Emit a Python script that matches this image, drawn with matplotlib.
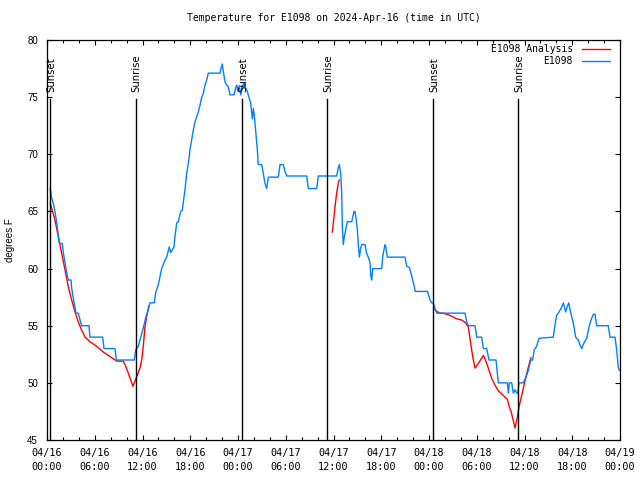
import matplotlib
matplotlib.use("Agg")
import matplotlib.pyplot as plt
from matplotlib.ticker import MultipleLocator, FuncFormatter
from matplotlib.lines import Line2D
import datetime as dt

# ---------------- data (hours since 2024-04-16 00:00 UTC) ----------------
obs_hours = [0.41, 0.54, 0.79, 1.0, 1.22, 1.42, 1.55, 1.92, 2.05, 2.26, 2.48, 2.68, 3.02, 3.1, 3.3,
             3.52, 3.64, 3.93, 4.15, 4.36, 5.28, 5.4, 7.0, 7.16, 8.54, 8.71, 10.97, 11.15, 11.47,
             11.69, 12.1, 12.44, 12.73, 12.94, 13.48, 13.66, 13.99, 14.2, 14.41, 14.83, 15.04,
             15.37, 15.54, 15.96, 16.08, 16.3, 16.5, 16.8, 17.0, 17.22, 17.34, 17.55, 17.76,
             17.97, 18.18, 18.38, 18.6, 18.81, 19.01, 19.23, 19.44, 19.64, 19.85, 20.07, 20.27,
             21.74, 21.86, 22.03, 22.15, 22.37, 22.58, 22.78, 23.0, 23.5, 23.71, 23.84, 24.0,
             24.16, 24.34, 24.54, 24.75, 24.97, 25.17, 25.38, 25.6, 25.8, 25.93, 26.05, 26.26,
             26.43, 26.55, 26.98, 27.18, 27.39, 27.6, 27.81, 29.07, 29.28, 29.69, 29.9, 30.12,
             31.79, 32.63, 32.84, 33.89, 34.09, 36.4, 36.6, 36.73, 36.91, 37.03, 37.11, 37.23,
             37.36, 37.54, 37.74, 38.29, 38.42, 38.58, 38.7, 38.83, 39.0, 39.12, 39.25, 39.42,
             39.55, 39.96, 40.17, 40.38, 40.59, 40.68, 40.8, 40.93, 42.06, 42.18, 42.47, 42.6,
             42.76, 44.99, 45.2, 45.53, 45.74, 45.95, 46.16, 46.28, 47.81, 48.13, 48.34, 48.54,
             48.76, 48.97, 52.53, 52.74, 52.94, 53.78, 54.0, 54.62, 54.83, 55.25, 55.54, 56.42,
             56.71, 57.84, 57.97, 58.09, 58.39, 58.6, 58.81, 59.02, 59.15, 59.31, 59.85, 60.19,
             60.48, 60.78, 61.03, 61.23, 61.53, 61.82, 63.62, 63.83, 64.04, 64.33, 64.59, 64.88,
             65.18, 65.38, 65.56, 65.72, 65.93, 66.22, 66.43, 66.76, 66.98, 67.19, 67.48, 67.82,
             68.11, 68.36, 68.65, 68.86, 69.07, 70.53, 70.74, 71.37, 71.58, 71.78, 71.91]
obs_temps = [67.0, 66.3, 65.7, 65.0, 64.0, 62.9, 62.2, 62.2, 61.4, 60.5, 59.6, 59.0, 59.0, 58.3, 57.4,
             56.6, 56.1, 56.1, 55.5, 55.0, 55.0, 54.0, 54.0, 53.0, 53.0, 52.0, 52.0, 52.9, 53.2,
             53.75, 54.8, 55.8, 56.4, 57.0, 57.0, 57.9, 58.6, 59.3, 60.0, 60.75, 61.0,
             61.9, 61.4, 61.9, 62.8, 64.0, 64.1, 65.0, 65.1, 66.3, 66.9, 68.3, 69.2,
             70.4, 71.25, 72.1, 72.85, 73.3, 73.7, 74.3, 75.0, 75.3, 76.05, 76.5, 77.1,
             77.1, 77.5, 77.9, 77.25, 76.35, 76.05, 75.9, 75.2, 75.2, 75.8, 76.05, 75.5,
             76.0, 75.2, 76.0, 76.2, 75.8, 75.5, 75.0, 74.45, 73.1, 74.0, 73.4, 71.8,
             70.4, 69.1, 69.1, 68.3, 67.45, 67.0, 68.0, 68.0, 69.1, 69.1, 68.5, 68.1,
             68.1, 68.1, 67.0, 67.0, 68.1, 68.1, 68.8, 69.1, 68.3, 66.6, 63.7, 62.1,
             62.8, 63.4, 64.1, 64.1, 64.5, 65.0, 65.0, 64.4, 63.4, 62.1, 61.0, 61.8,
             62.1, 62.1, 61.3, 61.0, 60.5, 59.4, 59.0, 60.0, 60.0, 61.05, 62.1, 61.8,
             61.0, 61.0, 60.2, 60.1, 59.6, 59.0, 58.4, 58.0, 58.0, 57.25, 57.0, 57.0,
             56.5, 56.1, 56.1, 55.35, 55.0, 55.0, 54.0, 54.0, 53.0, 53.0, 52.0, 52.0,
             50.0, 50.0, 49.1, 50.0, 50.0, 49.1, 49.4, 49.1, 49.1, 50.0, 50.0, 50.5,
             51.1, 52.0, 52.0, 52.9, 53.2, 53.9, 54.0, 55.06, 55.9, 56.2, 56.5, 57.0,
             56.2, 56.7, 57.0, 56.4, 55.8, 54.9, 54.0, 53.75, 53.3, 53.0, 53.5, 53.9,
             54.9, 55.5, 56.0, 56.0, 55.0, 55.0, 54.0, 54.0, 52.9, 51.4, 51.1]

ana1_hours = [0.41, 0.66, 1.0, 1.42, 1.85, 2.26, 2.68, 3.1, 3.52, 3.93, 4.36, 4.78, 5.4, 6.24, 7.07, 7.92,
              8.54, 8.76, 9.59, 9.8, 10.09, 10.8, 11.69, 11.9, 12.1, 12.31, 12.53, 12.78]
ana1_temps = [65.7, 65.1, 64.25, 62.8, 61.3, 59.9, 58.4, 57.25, 56.2, 55.35, 54.6, 54.0, 53.6, 53.2, 52.7, 52.3,
              52.0, 51.9, 51.9, 51.6, 51.1, 49.7, 51.3, 52.0, 53.2, 54.9, 55.8, 56.7]
ana2_hours = [35.85, 35.98, 36.19, 36.4, 36.6, 36.73]
ana2_temps = [63.2, 64.0, 65.4, 66.6, 67.45, 67.75]
ana3_hours = [48.76, 48.97, 49.38, 49.8, 50.64, 51.48, 52.11, 52.53, 52.94, 53.15, 53.36, 53.57, 53.78,
              54.2, 54.83, 55.04, 55.45, 55.88, 56.3, 56.71, 57.34, 57.84, 58.09, 58.31, 58.52, 58.81,
              59.1, 59.31, 59.65, 59.94, 60.28, 60.61, 60.82]
ana3_temps = [56.4, 56.25, 56.1, 56.1, 55.9, 55.6, 55.5, 55.3, 54.9, 53.9, 52.9, 52.0, 51.3,
              51.7, 52.4, 52.1, 51.3, 50.4, 49.8, 49.3, 48.9, 48.55, 47.9, 47.5, 46.9, 46.05,
              47.0, 47.9, 48.9, 49.8, 50.8, 51.7, 52.2]

sun_hours = [0.41, 11.15, 24.54, 35.22, 48.54, 59.22]
sun_labels = ["Sunset", "Sunrise", "Sunset", "Sunrise", "Sunset", "Sunrise"]

title = "Temperature for E1098 on 2024-Apr-16 (time in UTC)"
ylabel = "degrees F"
base_time = dt.datetime(2024, 4, 16, 0, 0)

# ---------------- plot ----------------
RED = "#ff0000"
BLUE = "#0080ff"
MONO = "DejaVu Sans Mono"
SANS = "Liberation Sans"

fig = plt.figure(figsize=(6.4, 4.8), dpi=100)
ax = fig.add_axes([47 / 640, 40 / 480, 573 / 640, 400 / 480])

ax.plot(ana1_hours, ana1_temps, color=RED, lw=1.0)
ax.plot(ana2_hours, ana2_temps, color=RED, lw=1.0)
ax.plot(ana3_hours, ana3_temps, color=RED, lw=1.0)
ax.plot(obs_hours, obs_temps, color=BLUE, lw=1.0)

for h, lab in zip(sun_hours, sun_labels):
    ax.plot([h, h], [45, 74.85], color="black", lw=1.0)
    ax.text(h + 0.12, 75.45, lab, rotation=90, ha="center", va="bottom",
            fontsize=7.3, family="DejaVu Sans")

ax.set_xlim(0, 72)
ax.set_ylim(45, 80)
ax.xaxis.set_major_locator(MultipleLocator(6))
ax.xaxis.set_minor_locator(MultipleLocator(2))
ax.yaxis.set_major_locator(MultipleLocator(5))
ax.xaxis.set_major_formatter(FuncFormatter(
    lambda v, p: (base_time + dt.timedelta(hours=v)).strftime("%m/%d\n%H:%M")))
ax.yaxis.set_major_formatter(FuncFormatter(lambda v, p: f"{int(round(v))}"))

ax.tick_params(which="both", direction="in", top=True, right=True, width=0.8)
ax.tick_params(which="major", length=3.5)
ax.tick_params(which="minor", length=2)
ax.tick_params(axis="x", which="major", pad=6, labelsize=7.3)
ax.tick_params(axis="y", which="major", pad=6.5, labelsize=7)
for lab in ax.get_xticklabels():
    lab.set_family(MONO)
    lab.set_linespacing(1.4)
for lab in ax.get_yticklabels():
    lab.set_family(SANS)
for s in ax.spines.values():
    s.set_linewidth(0.9)

ax.set_title(title, fontsize=7.05, family=MONO, pad=14)
ax.set_ylabel(ylabel, fontsize=7, family=SANS, labelpad=9)

handles = [Line2D([], [], color=RED, lw=1.0), Line2D([], [], color=BLUE, lw=1.0)]
ax.legend(handles, ["E1098 Analysis", "E1098"], loc="upper right",
          bbox_to_anchor=(1 - 10 / 573, 1 - 4 / 400), frameon=False, markerfirst=False,
          prop={"family": MONO, "size": 7.05}, handlelength=2.9, handletextpad=0.9,
          labelspacing=0.25, borderpad=0, borderaxespad=0)

fig.savefig("out.png", dpi=100)
